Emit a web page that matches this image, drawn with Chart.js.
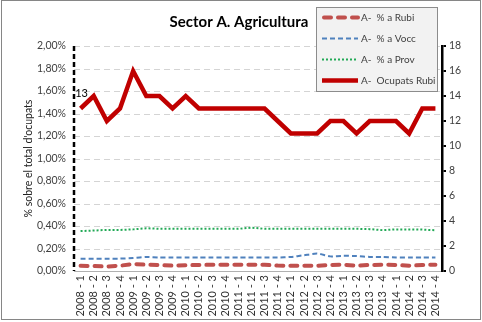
<!DOCTYPE html>
<html>
<head>
<meta charset="utf-8">
<script src="https://cdn.jsdelivr.net/npm/chart.js@4.4.1/dist/chart.umd.min.js"></script>
<style>
  html, body { margin: 0; padding: 0; background: #fff; }
  #wrap { width: 482px; height: 322px; position: relative; }
</style>
</head>
<body>
<div id="wrap"><canvas id="c" width="482" height="322"></canvas></div>
<script>
var quarters = ["2008 - 1","2008 - 2","2008 - 3","2008 - 4","2009 - 1","2009 - 2","2009 - 3","2009 - 4",
  "2010 - 1","2010 - 2","2010 - 3","2010 - 4","2011 - 1","2011 - 2","2011 - 3","2011 - 4",
  "2012 - 1","2012 - 2","2012 - 3","2012 - 4","2013 - 1","2013 - 2","2013 - 3","2013 - 4",
  "2014 - 1","2014 - 2","2014 - 3","2014 - 4"];

// % over total employed (left axis)
var pctRubi = [0.047,0.044,0.040,0.047,0.062,0.056,0.053,0.048,0.051,0.054,0.055,0.055,0.055,0.055,0.055,0.048,
  0.047,0.047,0.047,0.053,0.056,0.047,0.054,0.055,0.054,0.047,0.054,0.055];
var pctVocc = [0.110,0.110,0.110,0.110,0.115,0.125,0.120,0.120,0.120,0.120,0.120,0.120,0.120,0.120,0.120,0.120,
  0.125,0.140,0.155,0.130,0.135,0.133,0.125,0.125,0.120,0.120,0.120,0.120];
var pctProv = [0.355,0.360,0.365,0.365,0.370,0.380,0.375,0.375,0.375,0.375,0.375,0.375,0.375,0.385,0.375,0.375,
  0.375,0.375,0.375,0.375,0.375,0.375,0.372,0.363,0.370,0.370,0.368,0.362];
// employed in Rubi (right axis)
var ocupatsRubi = [13,14,12,13,16,14,14,13,14,13,13,13,13,13,13,12,11,11,11,12,12,11,12,12,12,11,13,13];

var leftTicks = ["0,00%","0,20%","0,40%","0,60%","0,80%","1,00%","1,20%","1,40%","1,60%","1,80%","2,00%"];
var rightTicks = ["0","2","4","6","8","10","12","14","16","18"];

var FONT = "Lato, 'Open Sans', sans-serif";

var legendItems = [
  { text: "A-  % a Rubi", color: "#c0504d", width: 4, dash: [7, 7], cap: "round" },
  { text: "A-  % a Vocc", color: "#4f81bd", width: 2, dash: [5, 3], cap: "butt" },
  { text: "A-  % a Prov", color: "#22a956", width: 2, dash: [2, 2], cap: "butt" },
  { text: "A-  Ocupats Rubi", color: "#c00000", width: 4.5, dash: [], cap: "butt" }
];

var decorPlugin = {
  id: "decor",
  beforeDraw: function (chart) {
    var ctx = chart.ctx;
    ctx.save();
    ctx.fillStyle = "#fff";
    ctx.fillRect(0, 0, chart.width, chart.height);
    ctx.restore();
  },
  beforeDatasetsDraw: function (chart) {
    var ctx = chart.ctx;
    var a = chart.chartArea;
    var ys = chart.scales.y;
    ctx.save();
    // dashed horizontal gridlines of the left axis
    ctx.strokeStyle = "#d4d4d4";
    ctx.lineWidth = 1;
    ctx.setLineDash([6, 4]);
    ys.ticks.forEach(function (t) {
      if (t.value === 0) return;
      var y = Math.round(ys.getPixelForValue(t.value)) + 0.5;
      ctx.beginPath();
      ctx.moveTo(a.left, y);
      ctx.lineTo(a.right, y);
      ctx.stroke();
    });
    // dashed left axis line
    ctx.strokeStyle = "#000";
    ctx.lineWidth = 2.5;
    ctx.setLineDash([5, 3]);
    ctx.beginPath();
    ctx.moveTo(a.left, a.top);
    ctx.lineTo(a.left, a.bottom);
    ctx.stroke();
    ctx.restore();
  },
  afterDraw: function (chart) {
    var ctx = chart.ctx;
    ctx.save();
    // outer frame
    ctx.strokeStyle = "#868686";
    ctx.lineWidth = 1;
    ctx.strokeRect(1.5, 0.5, 479, 319);

    // title
    ctx.fillStyle = "#000";
    ctx.font = "bold 15px " + FONT;
    ctx.textAlign = "center";
    ctx.textBaseline = "middle";
    ctx.fillText("Sector A. Agricultura", 239, 22);

    // data label on first point
    var meta = chart.getDatasetMeta(3);
    var p = meta.data[0];
    ctx.font = "11px " + FONT;
    ctx.fillText(String(ocupatsRubi[0]), p.x + 1, p.y - 15);

    // legend box
    ctx.fillStyle = "#f2f2f2";
    ctx.fillRect(316, 7, 121, 84);
    ctx.strokeStyle = "#8c8c8c";
    ctx.strokeRect(316.5, 7.5, 121, 84);
    ctx.textAlign = "left";
    ctx.font = "10px " + FONT;
    legendItems.forEach(function (it, i) {
      var y = 17.5 + i * 21;
      ctx.beginPath();
      ctx.strokeStyle = it.color;
      ctx.lineWidth = it.width;
      ctx.lineCap = it.cap;
      ctx.setLineDash(it.dash);
      var x0 = it.cap === "round" ? 324 : 322;
      ctx.moveTo(x0, y);
      ctx.lineTo(358, y);
      ctx.stroke();
      ctx.setLineDash([]);
      ctx.lineCap = "butt";
      ctx.fillStyle = "#404040";
      ctx.fillText(it.text, 361, y);
    });
    ctx.restore();
  }
};

new Chart(document.getElementById("c").getContext("2d"), {
  type: "line",
  data: {
    labels: quarters,
    datasets: [
      { label: "A-  % a Rubi", data: pctRubi, yAxisID: "y", borderColor: "#c0504d", borderWidth: 4,
        borderDash: [7, 7], borderCapStyle: "round", pointRadius: 0, tension: 0, order: 2 },
      { label: "A-  % a Vocc", data: pctVocc, yAxisID: "y", borderColor: "#4f81bd", borderWidth: 2,
        borderDash: [5, 3], pointRadius: 0, tension: 0.2, order: 3 },
      { label: "A-  % a Prov", data: pctProv, yAxisID: "y", borderColor: "#22a956", borderWidth: 2,
        borderDash: [2, 2], pointRadius: 0, tension: 0, order: 4 },
      { label: "A-  Ocupats Rubi", data: ocupatsRubi, yAxisID: "y2", borderColor: "#c00000", borderWidth: 4.5,
        pointRadius: 0, tension: 0, borderJoinStyle: "miter", order: 1 }
    ]
  },
  options: {
    responsive: false,
    animation: false,
    events: [],
    layout: { padding: { top: 46, left: 0, right: 0, bottom: 0 } },
    plugins: { legend: { display: false }, title: { display: false }, tooltip: { enabled: false } },
    scales: {
      x: {
        offset: true,
        grid: { display: false, drawTicks: false },
        border: { display: true, color: "#b0b0b0", width: 1 },
        ticks: { minRotation: 90, maxRotation: 90, autoSkip: false, padding: 4, color: "#333",
          font: { family: FONT, size: 11 } },
        afterFit: function (s) { s.height = 51; }
      },
      y: {
        position: "left",
        min: 0, max: 2.0,
        ticks: { stepSize: 0.2, padding: 8, color: "#404040", font: { family: FONT, size: 10.5 },
          callback: function (v, i) { return leftTicks[i]; } },
        grid: { display: false, drawTicks: false },
        border: { display: false },
        title: { display: true, text: "% sobre el total d'ocupats", color: "#222",
          font: { family: FONT, size: 10.5 }, padding: { top: 22, bottom: 0 } },
        afterFit: function (s) { s.width = 74; }
      },
      y2: {
        position: "right",
        min: 0, max: 18,
        ticks: { stepSize: 2, padding: 3, color: "#404040", font: { family: FONT, size: 10.5 },
          callback: function (v, i) { return rightTicks[i]; } },
        grid: { drawOnChartArea: false, drawTicks: true, tickLength: 4, color: "#000", lineWidth: 2 },
        border: { display: true, color: "#000", width: 2.5 },
        afterFit: function (s) { s.width = 40; }
      }
    }
  },
  plugins: [decorPlugin]
});
</script>
</body>
</html>
